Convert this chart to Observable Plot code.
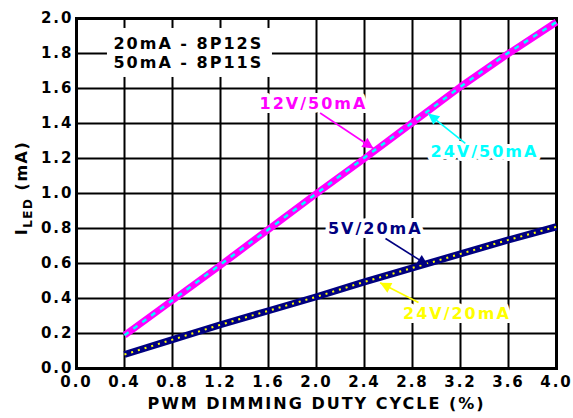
<!DOCTYPE html>
<html><head>
<meta charset="utf-8">
<script src="https://cdn.jsdelivr.net/npm/d3@7"></script>
<script src="https://cdn.jsdelivr.net/npm/@observablehq/plot@0.6"></script>
<style>
body{margin:0;background:#fff}
svg{font-family:"DejaVu Sans",sans-serif;font-weight:bold}
</style>
</head><body><div id="chart"></div>
<script>
// Data
const duty = [0.4, 0.8, 1.2, 1.6, 2.0, 2.4, 2.8, 3.2, 3.6, 4.0];
const i12v50 = [0.19, 0.39, 0.59, 0.795, 1.0, 1.2, 1.405, 1.61, 1.8, 1.98];
const i24v50 = [0.19, 0.39, 0.595, 0.795, 1.0, 1.205, 1.405, 1.61, 1.805, 1.98];
const i5v20 = [0.08, 0.165, 0.25, 0.33, 0.41, 0.495, 0.575, 0.655, 0.735, 0.81];
const i24v20 = [0.08, 0.165, 0.25, 0.33, 0.41, 0.495, 0.575, 0.655, 0.735, 0.81];
const xTicks = [0, 0.4, 0.8, 1.2, 1.6, 2.0, 2.4, 2.8, 3.2, 3.6, 4.0];
const yTicks = [0, 0.2, 0.4, 0.6, 0.8, 1.0, 1.2, 1.4, 1.6, 1.8, 2.0];
const seriesNames = ["12V/50mA", "24V/50mA", "5V/20mA", "24V/20mA"];
const seriesColors = ["#ff00ff", "#00ffff", "#000080", "#ffff00"];
const labelX = [1.975, 3.4, 2.49, 3.17];
const labelY = [1.51, 1.24, 0.80, 0.314];
const arrowX1 = [2.03, 3.24, 2.575, 2.85];
const arrowY1 = [1.46, 1.286, 0.743, 0.377];
const arrowX2 = [2.475, 2.93, 2.93, 2.53];
const arrowY2 = [1.257, 1.457, 0.589, 0.49];
const legendLines = ["20mA - 8P12S", "50mA - 8P11S"];
const legendLineY = [1.854, 1.749];
const legendBox = {x1: 0.258, x2: 1.633, y1: 1.663, y2: 1.943, textX: 0.308};
const xTitle = "PWM DIMMING DUTY CYCLE (%)";

const toRows = (ys) => duty.map((d, i) => ({x: d, y: ys[i]}));
const labels = seriesNames.map((n, i) => ({n, c: seriesColors[i], x: labelX[i], y: labelY[i],
  x1: arrowX1[i], y1: arrowY1[i], x2: arrowX2[i], y2: arrowY2[i]}));

function filledArrow(color, context) {
  const doc = (context && context.document) || document;
  const ns = "http://www.w3.org/2000/svg";
  const m = doc.createElementNS(ns, "marker");
  m.setAttribute("viewBox", "-10 -5 10 10");
  m.setAttribute("markerWidth", 16);
  m.setAttribute("markerHeight", 11);
  m.setAttribute("markerUnits", "userSpaceOnUse");
  m.setAttribute("orient", "auto");
  m.setAttribute("refX", 0);
  m.setAttribute("refY", 0);
  const p = doc.createElementNS(ns, "path");
  p.setAttribute("d", "M-10,-5L0,0L-10,5Z");
  p.setAttribute("fill", color);
  p.setAttribute("stroke", "none");
  m.appendChild(p);
  return m;
}

const chart = Plot.plot({
  width: 573,
  height: 418,
  marginLeft: 76,
  marginRight: 17,
  marginTop: 18,
  marginBottom: 50,
  style: {fontFamily: "DejaVu Sans", fontWeight: "bold", fontSize: "15px", letterSpacing: "2px", color: "black", background: "white"},
  x: {domain: [0, 4]},
  y: {domain: [0, 2]},
  marks: [
    Plot.gridX(xTicks, {stroke: "black", strokeOpacity: 1, strokeWidth: 2}),
    Plot.gridY(yTicks, {stroke: "black", strokeOpacity: 1, strokeWidth: 2}),
    Plot.frame({stroke: "black", strokeWidth: 3}),
    Plot.rect([legendBox], {x1: "x1", x2: "x2", y1: "y1", y2: "y2", fill: "white"}),
    Plot.text(legendLines, {x: legendBox.textX, y: (d, i) => legendLineY[i], text: d => d, textAnchor: "start", fontSize: 16, fill: "black", letterSpacing: "1.5px"}),
    Plot.axisX({ticks: xTicks, tickSize: 0, tickPadding: 8, tickFormat: d3.format(".1f"), label: null, fontSize: 15}),
    Plot.axisY({ticks: yTicks, tickSize: 0, tickPadding: 3, tickFormat: d3.format(".1f"), label: null, fontSize: 15}),
    Plot.line(toRows(i12v50), {x: "x", y: "y", stroke: seriesColors[0], strokeWidth: 7, strokeLinecap: "butt"}),
    Plot.line(toRows(i24v50), {x: "x", y: "y", stroke: seriesColors[1], strokeWidth: 2.5, strokeDasharray: "5,6", strokeLinecap: "butt"}),
    Plot.line(toRows(i5v20), {x: "x", y: "y", stroke: seriesColors[2], strokeWidth: 7, strokeLinecap: "butt"}),
    Plot.line(toRows(i24v20), {x: "x", y: "y", stroke: seriesColors[3], strokeWidth: 2, strokeDasharray: "2,5", strokeLinecap: "butt"}),
    Plot.text(labels, {x: "x", y: "y", text: "n", fill: "c", stroke: "white", strokeWidth: 8, paintOrder: "stroke", fontSize: 16, letterSpacing: "2px"}),
    Plot.link(labels, {x1: "x1", y1: "y1", x2: "x2", y2: "y2", stroke: "c", strokeWidth: 1.6, markerEnd: filledArrow}),
    Plot.text([xTitle], {frameAnchor: "bottom", dy: 40, text: d => d, fontSize: 16, fill: "black", letterSpacing: "2px"})
  ]
});

// Y-axis title with subscript
const ns = "http://www.w3.org/2000/svg";
const t = document.createElementNS(ns, "text");
t.setAttribute("transform", "translate(27,188) rotate(-90)");
t.setAttribute("text-anchor", "middle");
t.setAttribute("font-size", "16");
t.setAttribute("font-weight", "bold");
t.setAttribute("fill", "black");
t.setAttribute("letter-spacing", "1.5px");
const s1 = document.createElementNS(ns, "tspan"); s1.textContent = "I";
const s2 = document.createElementNS(ns, "tspan"); s2.textContent = "LED"; s2.setAttribute("font-size", "12"); s2.setAttribute("dy", "5");
const s3 = document.createElementNS(ns, "tspan"); s3.textContent = " (mA)"; s3.setAttribute("dy", "-5");
t.appendChild(s1); t.appendChild(s2); t.appendChild(s3);
chart.appendChild(t);

document.getElementById("chart").appendChild(chart);
</script>
</body></html>
